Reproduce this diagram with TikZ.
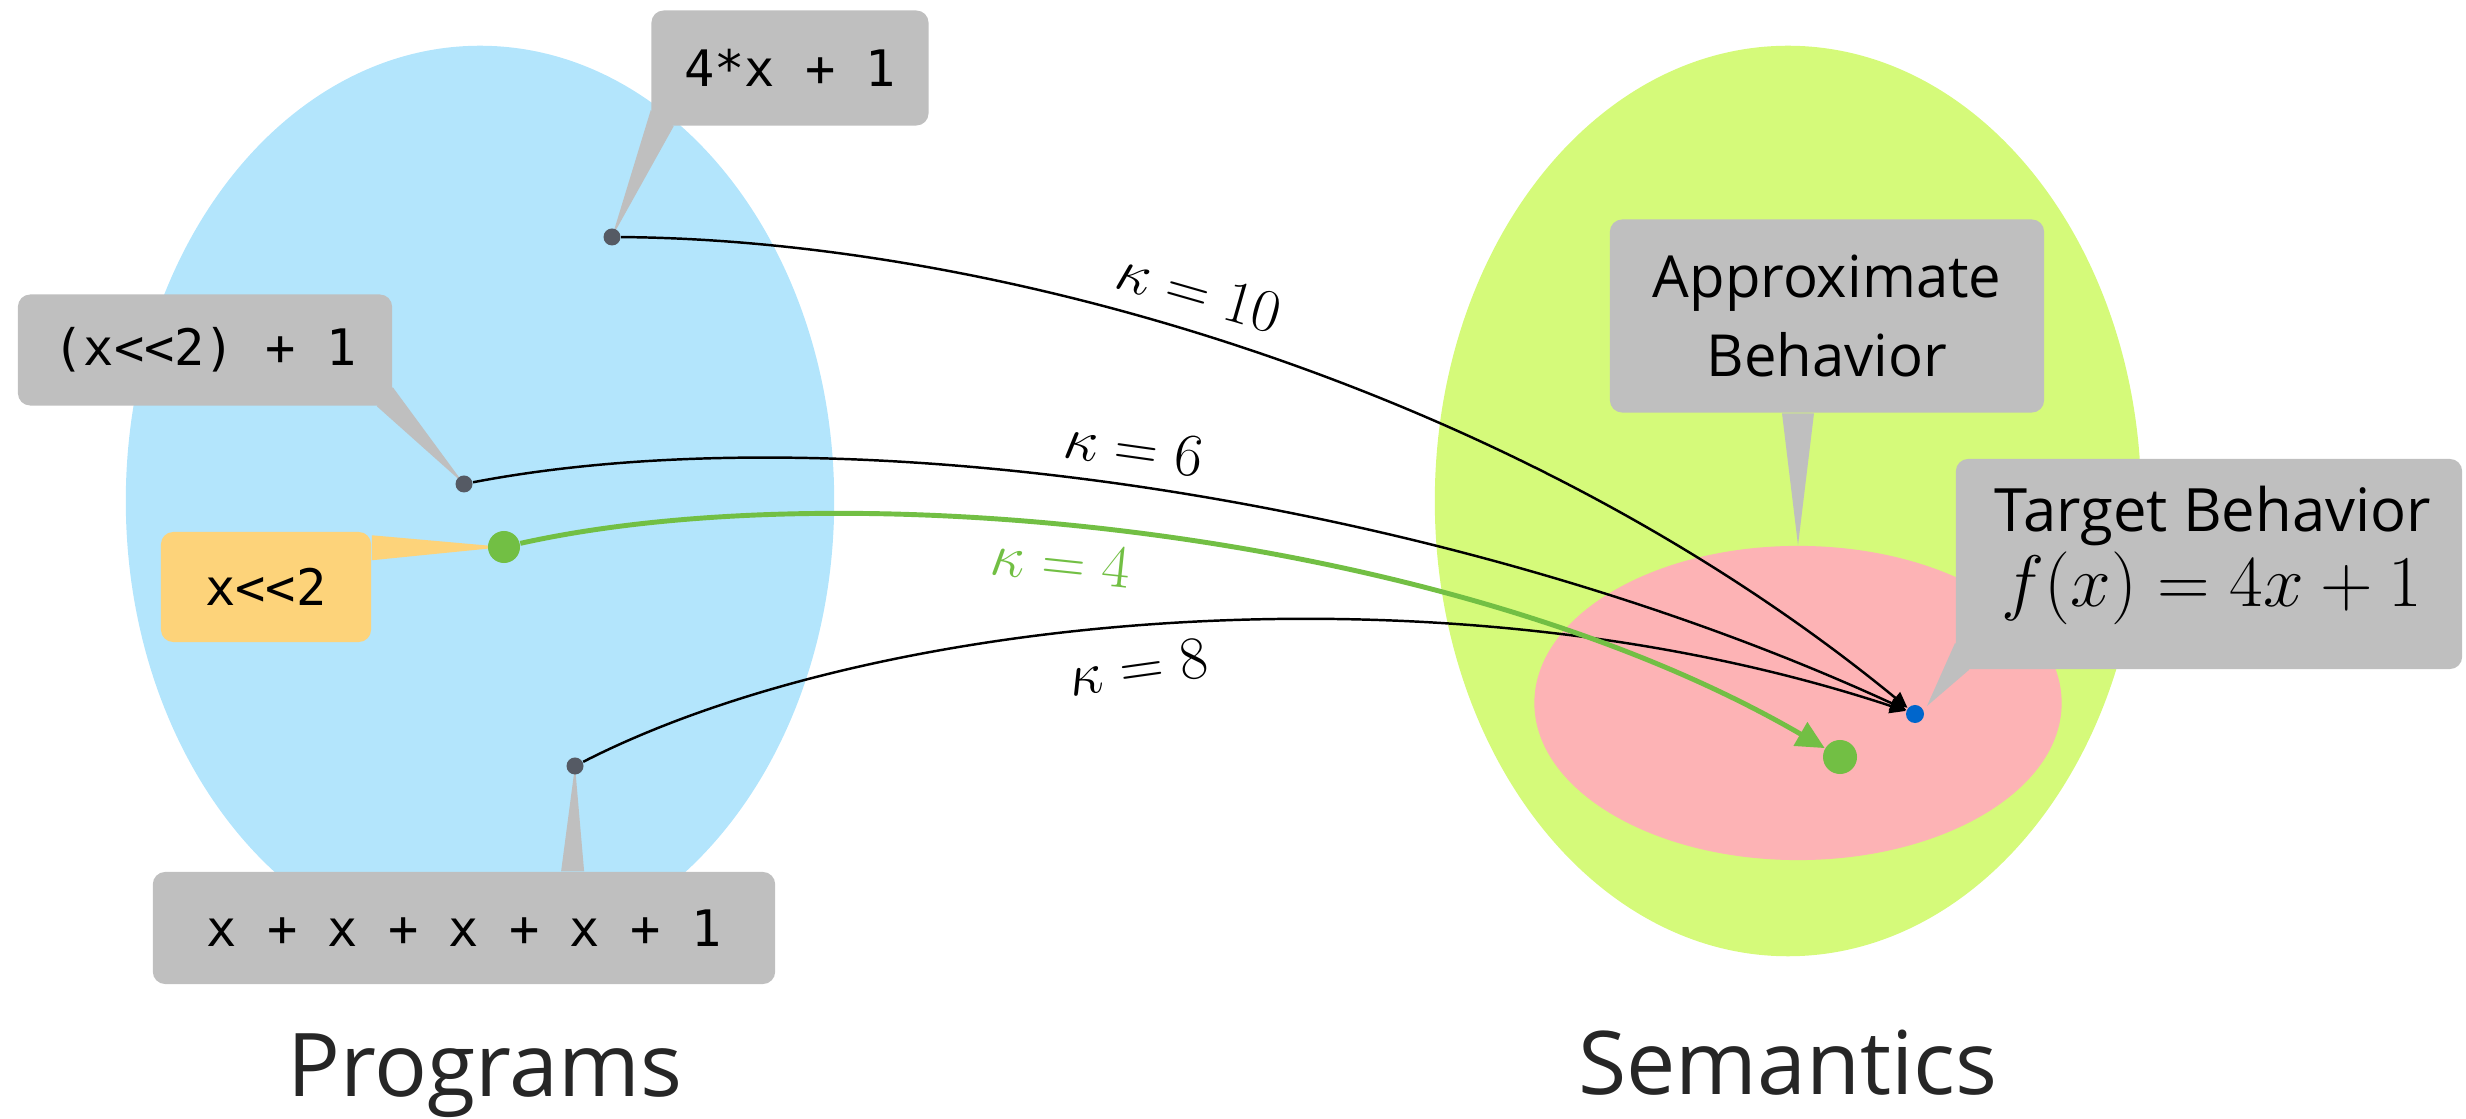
\documentclass[tikz,border=0pt]{standalone}
\usepackage[no-math]{fontspec}
\setmainfont{Open Sans}
\newfontfamily\codefont{DejaVu Sans Mono}
\usetikzlibrary{shapes.geometric,arrows.meta,calc}
\definecolor{progblue}{HTML}{B3E5FC}
\definecolor{semlime}{HTML}{D5FA7A}
\definecolor{approxpink}{HTML}{FDB3B5}
\definecolor{boxgray}{HTML}{BFBFBF}
\definecolor{boxorange}{HTML}{FDD37A}
\definecolor{kgreen}{HTML}{72BF44}
\definecolor{dotgray}{HTML}{555A64}
\definecolor{dotblue}{HTML}{0066CC}
\begin{document}
\begin{tikzpicture}[x=0.01cm,y=-0.01cm,
  region/.style={ellipse, inner sep=0pt, draw=none},
  gbox/.style={rectangle, rounded corners=3.5pt, fill=boxgray, inner sep=0pt, align=center},
  obox/.style={gbox, fill=boxorange},
  codetext/.style={font=\codefont\fontsize{14.3}{17}\selectfont},
  labeltext/.style={font=\fontsize{16.5}{22.5}\selectfont},
  titletext/.style={font=\fontsize{25}{30}\selectfont, text=black!85, anchor=base},
  pdot/.style={circle, fill=dotgray, inner sep=0pt, minimum size=0.17cm},
  conn/.style={line width=0.7pt, -{Triangle[length=4.5pt,width=4.2pt]}},
  gconn/.style={line width=1.4pt, kgreen, -{Triangle[length=8pt,width=7.5pt]}},
  klabel/.style={font=\fontsize{16.2}{19}\selectfont, inner sep=1pt},
  pointer/.style={fill=boxgray}
]
\useasboundingbox (0,0) rectangle (2466,1119);

% regions
\node[region, fill=progblue, minimum width=7.08cm, minimum height=9.10cm] (prog) at (480,501) {};
\node[region, fill=semlime, minimum width=7.06cm, minimum height=9.10cm] (sem) at (1788,501) {};
\node[region, fill=approxpink, minimum width=5.27cm, minimum height=3.14cm] (appr) at (1798,703) {};

% dots (positions)
\coordinate (d1p) at (612,237);
\coordinate (d2p) at (464,484);
\coordinate (d3p) at (504,547);
\coordinate (d4p) at (575,766);

% boxes
\node[gbox, minimum width=2.77cm, minimum height=1.15cm, codetext] (b1) at (790,68) {4*x + 1};
\node[gbox, minimum width=3.74cm, minimum height=1.11cm, codetext] (b2) at (205,350) {(x<<2) + 1};
\node[obox, minimum width=2.10cm, minimum height=1.10cm, codetext] (b3) at (266,587) {x<<2};
\node[gbox, minimum width=6.22cm, minimum height=1.12cm, codetext] (b4) at (464,928) {x + x + x + x + 1};
\node[gbox, minimum width=4.34cm, minimum height=1.93cm, labeltext] (b5) at (1827,316) {Approximate\\Behavior};
\node[gbox, minimum width=5.06cm, minimum height=2.10cm] (b6) at (2209,564) {};
\node[anchor=base, font=\fontsize{17}{20}\selectfont] (t6a) at (2213,532) {Target Behavior};
\node[anchor=base, font=\fontsize{19.5}{22}\selectfont] (t6b) at (2212,607) {$f(x) = 4x + 1$};

% pointers
\fill[pointer] ($(b1.south west)+(0,-16)$) -- ($(b1.south west)+(23,0)$) -- (d1p) -- cycle;
\fill[pointer] ($(b2.south east)+(-16,0)$) -- ($(b2.south east)+(0,-19)$) -- (d2p) -- cycle;
\fill[boxorange] ($(b3.north east)+(0,4)$) -- ($(b3.north east)+(0,29)$) -- (d3p) -- cycle;
\fill[pointer] ($(b4.north west)+(409,0)$) -- ($(b4.north west)+(432,0)$) -- (d4p) -- cycle;
\fill[pointer] ($(b5.south)+(-45,0)$) -- ($(b5.south)+(-13,0)$) -- (appr.north) -- cycle;
\coordinate (p6tip) at (1927,706);
\fill[pointer] ($(b6.south west)+(0,-27)$) -- ($(b6.south west)+(14,0)$) -- (p6tip) -- cycle;

% dots
\node[pdot] (d1) at (d1p) {};
\node[pdot] (d2) at (d2p) {};
\node[circle, fill=kgreen, inner sep=0pt, minimum size=0.32cm] (d3) at (d3p) {};
\node[pdot] (d4) at (d4p) {};
\node[circle, fill=dotblue, inner sep=0pt, minimum size=0.18cm] (dt) at (1915,714) {};
\node[circle, fill=kgreen, inner sep=0pt, minimum size=0.34cm] (dg) at (1840,757) {};

% connectors
\draw[conn] (d1) .. controls (1000,240) and (1520,390) .. (dt);
\draw[conn] (d2) .. controls (850,410) and (1450,500) .. (dt);
\draw[conn] (d4) .. controls (880,610) and (1450,560) .. (dt);
\draw[gconn] (d3) .. controls (850,470) and (1450,530) .. (dg);

% labels
\node[klabel, rotate=-16] (k10) at (1199,292) {$\kappa = 10$};
\node[klabel, rotate=-8] (k6) at (1134,448) {$\kappa = 6$};
\node[klabel, rotate=-6, text=kgreen] (k4) at (1061,562) {$\kappa = 4$};
\node[klabel, rotate=8] (k8) at (1138,667) {$\kappa = 8$};

% titles
\node[titletext] (tprog) at (485,1096) {Programs};
\node[titletext] (tsem) at (1788,1094) {Semantics};
\end{tikzpicture}
\end{document}
